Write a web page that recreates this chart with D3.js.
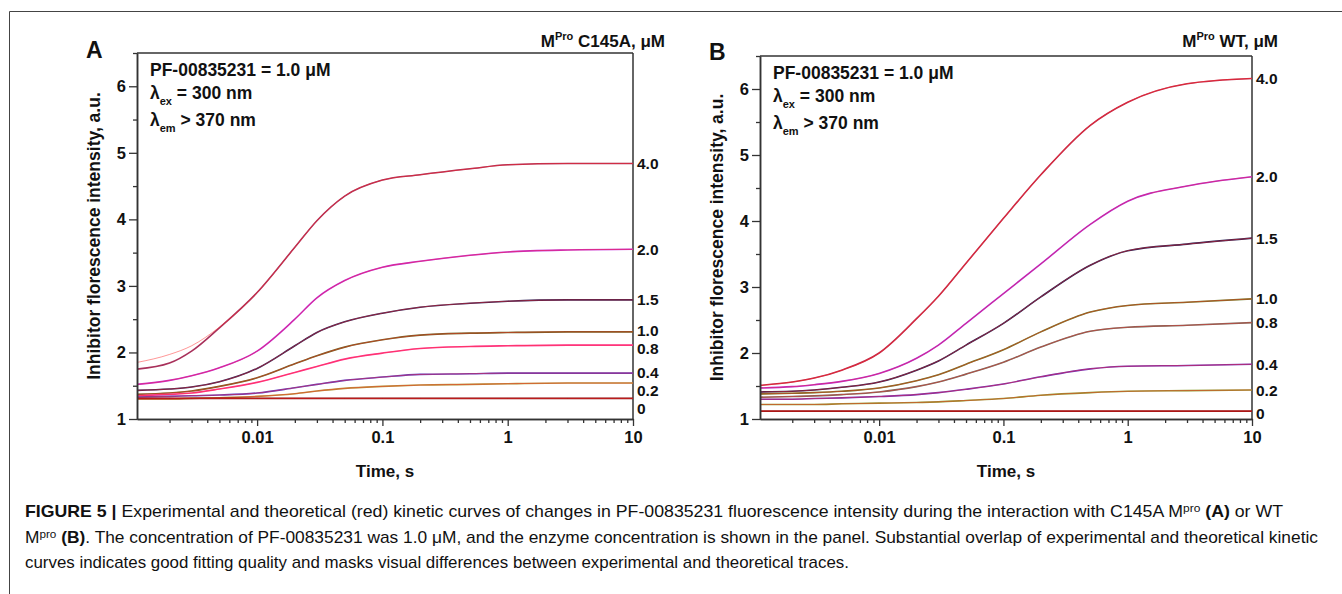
<!DOCTYPE html>
<html>
<head>
<meta charset="utf-8">
<script src="https://cdn.jsdelivr.net/npm/d3@7/dist/d3.min.js"></script>
<style>
  html, body { margin: 0; padding: 0; background: #fff; }
  svg { display: block; }
  text { font-family: "Liberation Sans", Arial, sans-serif; fill: #111; }
</style>
</head>
<body>
<svg id="chart" width="1342" height="594"></svg>
<script>
// ---------------- DATA ----------------
const timePts = [0.0011, 0.002, 0.003, 0.005, 0.01, 0.02, 0.03, 0.05, 0.1, 0.2, 0.5, 1, 3, 10];
const concLabels = ["4.0", "2.0", "1.5", "1.0", "0.8", "0.4", "0.2", "0"];

// Panel A: MPro C145A
const curvesA = [
  [1.85, 1.97, 2.10, 2.38, 2.90, 3.58, 3.98, 4.35, 4.59, 4.67, 4.76, 4.82, 4.84, 4.84],
  [1.52, 1.58, 1.65, 1.77, 2.02, 2.50, 2.82, 3.08, 3.28, 3.37, 3.46, 3.51, 3.54, 3.55],
  [1.43, 1.45, 1.48, 1.56, 1.76, 2.10, 2.30, 2.46, 2.59, 2.68, 2.74, 2.77, 2.79, 2.79],
  [1.37, 1.39, 1.42, 1.49, 1.62, 1.83, 1.95, 2.08, 2.19, 2.26, 2.29, 2.30, 2.31, 2.31],
  [1.35, 1.37, 1.39, 1.45, 1.55, 1.70, 1.79, 1.90, 1.99, 2.06, 2.09, 2.10, 2.11, 2.11],
  [1.33, 1.34, 1.35, 1.36, 1.39, 1.47, 1.52, 1.58, 1.63, 1.67, 1.68, 1.69, 1.69, 1.69],
  [1.30, 1.30, 1.31, 1.32, 1.34, 1.38, 1.42, 1.46, 1.49, 1.51, 1.52, 1.53, 1.54, 1.54],
  [1.31, 1.31, 1.31, 1.31, 1.31, 1.31, 1.31, 1.31, 1.31, 1.31, 1.31, 1.31, 1.31, 1.31]
];
// experimental trace of the 4.0 uM C145A curve deviates from the fit at early times
const expA40Early = [1.75, 1.84, 2.02, 2.37];

// Panel B: MPro WT
const curvesB = [
  [1.51, 1.56, 1.62, 1.74, 2.00, 2.52, 2.86, 3.36, 4.04, 4.70, 5.45, 5.80, 6.08, 6.16],
  [1.47, 1.49, 1.52, 1.57, 1.69, 1.92, 2.12, 2.45, 2.90, 3.35, 3.95, 4.30, 4.53, 4.67],
  [1.41, 1.42, 1.44, 1.48, 1.56, 1.74, 1.88, 2.12, 2.45, 2.85, 3.33, 3.55, 3.65, 3.74],
  [1.38, 1.39, 1.40, 1.42, 1.47, 1.58, 1.67, 1.83, 2.05, 2.32, 2.62, 2.72, 2.77, 2.82],
  [1.33, 1.34, 1.35, 1.37, 1.41, 1.49, 1.56, 1.68, 1.86, 2.09, 2.33, 2.39, 2.42, 2.46],
  [1.30, 1.30, 1.31, 1.32, 1.34, 1.37, 1.40, 1.45, 1.53, 1.64, 1.76, 1.80, 1.81, 1.83],
  [1.22, 1.22, 1.22, 1.23, 1.24, 1.25, 1.26, 1.28, 1.31, 1.36, 1.40, 1.42, 1.43, 1.44],
  [1.12, 1.12, 1.12, 1.12, 1.12, 1.12, 1.12, 1.12, 1.12, 1.12, 1.12, 1.12, 1.12, 1.12]
];

const expColorsA = ["#a8305a", "#c02cdc", "#2a1f55", "#6b6420", "#ff3c9c", "#5a3cc8", "#b09a3a", "#8a1010"];
const expColorsB = ["#c02848", "#b02ce0", "#221c50", "#6a7a22", "#707060", "#6a30c0", "#8aa030", "#8a1010"];

const xMajor = [0.01, 0.1, 1, 10];
const yMajor = [1, 2, 3, 4, 5, 6];
const yMinor = [1.5, 2.5, 3.5, 4.5, 5.5, 6.5];
const xDomain = [0.0011, 10];
const yDomain = [1, 6.5];

// ---------------- DRAWING ----------------
const svg = d3.select("#chart");
const FONT = '"Liberation Sans", Arial, sans-serif';

// figure frame
svg.append("line").attr("x1", 9.5).attr("x2", 1342).attr("y1", 11.5).attr("y2", 11.5)
  .attr("stroke", "#444").attr("stroke-width", 1);
svg.append("line").attr("x1", 9.5).attr("x2", 9.5).attr("y1", 11.5).attr("y2", 594)
  .attr("stroke", "#444").attr("stroke-width", 1);

const xMinor = [];
[0.001, 0.01, 0.1, 1].forEach(d => { for (let k = 2; k <= 9; k++) { const v = d * k; if (v >= xDomain[0] && v <= xDomain[1]) xMinor.push(v); } });

function drawPanel(cfg) {
  const g = svg.append("g");
  const x = d3.scaleLog().domain(xDomain).range([cfg.left, cfg.right]);
  const y = d3.scaleLinear().domain(yDomain).range([cfg.bottom, cfg.top]);

  // box top & right
  g.append("line").attr("x1", cfg.left).attr("x2", cfg.right).attr("y1", cfg.top).attr("y2", cfg.top)
    .attr("stroke", "#333").attr("stroke-width", 1.5);
  g.append("line").attr("x1", cfg.right).attr("x2", cfg.right).attr("y1", cfg.top).attr("y2", cfg.bottom)
    .attr("stroke", "#333").attr("stroke-width", 1.5);

  // curves
  const line = d3.line().x(d => x(d[0])).y(d => y(d[1])).curve(d3.curveMonotoneX);
  cfg.curves.forEach((vals, i) => {
    let expVals = vals.slice();
    if (cfg.expEarly && i === cfg.expEarlyIndex) cfg.expEarly.forEach((v, k) => expVals[k] = v);
    const ptsExp = timePts.map((t, k) => [t, expVals[k]]);
    const ptsFit = timePts.map((t, k) => [t, vals[k]]);
    g.append("path").attr("d", line(ptsExp)).attr("fill", "none")
      .attr("stroke", cfg.colors[i]).attr("stroke-width", 1.6);
    g.append("path").attr("d", line(ptsFit)).attr("fill", "none")
      .attr("stroke", "#ff2a2a").attr("stroke-width", 0.9).attr("stroke-opacity", 0.55);
  });

  // axes
  g.append("g").attr("transform", `translate(0,${cfg.bottom})`)
    .call(d3.axisBottom(x).tickValues(xMajor).tickFormat(d => d >= 1 ? d3.format("d")(d) : String(d)).tickSize(7).tickSizeOuter(0).tickPadding(5));
  g.append("g").attr("transform", `translate(0,${cfg.bottom})`)
    .call(d3.axisBottom(x).tickValues(xMinor).tickFormat("").tickSize(4).tickSizeOuter(0));
  g.append("g").attr("transform", `translate(${cfg.left},0)`)
    .call(d3.axisLeft(y).tickValues(yMajor).tickFormat(d3.format("d")).tickSize(8).tickSizeOuter(0).tickPadding(3));
  g.append("g").attr("transform", `translate(${cfg.left},0)`)
    .call(d3.axisLeft(y).tickValues(yMinor).tickFormat("").tickSize(4).tickSizeOuter(0));
  g.selectAll(".domain").attr("stroke", "#333").attr("stroke-width", 1.5);
  g.selectAll(".tick line").attr("stroke", "#333").attr("stroke-width", 1.3);
  g.selectAll(".tick text").attr("font-family", FONT).attr("font-weight", "bold")
    .attr("font-size", 16.5).attr("fill", "#111");

  // axis titles
  g.append("text").attr("x", (cfg.left + cfg.right) / 2).attr("y", 477)
    .attr("text-anchor", "middle").attr("font-weight", "bold").attr("font-size", 17)
    .text("Time, s");
  g.append("text")
    .attr("transform", `translate(${cfg.yTitleX},${(cfg.top + cfg.bottom) / 2}) rotate(-90)`)
    .attr("text-anchor", "middle").attr("font-weight", "bold").attr("font-size", 17.5)
    .text("Inhibitor florescence intensity, a.u.");

  // panel letter
  g.append("text").attr("x", cfg.letterX).attr("y", cfg.letterY)
    .attr("font-weight", "bold").attr("font-size", 23).text(cfg.letter);

  // annotation
  const ax = cfg.left + 13, ay = cfg.top + 23;
  g.append("text").attr("x", ax).attr("y", ay).attr("font-weight", "bold").attr("font-size", 17.5)
    .text("PF-00835231 = 1.0 \u03BCM");
  const l2 = g.append("text").attr("x", ax).attr("y", ay + 23).attr("font-weight", "bold").attr("font-size", 17.5);
  l2.append("tspan").text("\u03BB");
  l2.append("tspan").attr("font-size", 11).attr("dy", 6).text("ex");
  l2.append("tspan").attr("dy", -6).text(" = 300 nm");
  const l3 = g.append("text").attr("x", ax).attr("y", ay + 50).attr("font-weight", "bold").attr("font-size", 17.5);
  l3.append("tspan").text("\u03BB");
  l3.append("tspan").attr("font-size", 11).attr("dy", 6).text("em");
  l3.append("tspan").attr("dy", -6).text(" > 370 nm");

  // header
  const h = g.append("text").attr("x", cfg.headerX).attr("y", 47).attr("text-anchor", "end")
    .attr("font-weight", "bold").attr("font-size", 17);
  h.append("tspan").text("M");
  h.append("tspan").attr("font-size", 11).attr("dy", -7).text("Pro");
  h.append("tspan").attr("dy", 7).text(" " + cfg.header + ", \u03BCM");

  // right-hand concentration labels (pushed apart when crowded)
  let prev = -Infinity;
  cfg.curves.forEach((vals, i) => {
    let py = y(vals[vals.length - 1]) + (cfg.labelDy[i] || 0);
    if (py - prev < 18) py = prev + 18;
    prev = py;
    g.append("text").attr("x", cfg.right + 4).attr("y", py).attr("dy", "0.36em")
      .attr("font-weight", "bold").attr("font-size", 15.5).text(concLabels[i]);
  });
}

drawPanel({
  left: 137, right: 633, top: 53, bottom: 419,
  curves: curvesA, colors: expColorsA, expEarly: expA40Early, expEarlyIndex: 0,
  letter: "A", letterX: 86, letterY: 58, yTitleX: 100,
  header: "C145A", headerX: 665, labelDy: [0, 0, 0, -1, 0, -1, 0, 8]
});
drawPanel({
  left: 760, right: 1252, top: 56, bottom: 419,
  curves: curvesB, colors: expColorsB,
  letter: "B", letterX: 709, letterY: 60, yTitleX: 723,
  header: "WT", headerX: 1278, labelDy: [0, 0, 0, 0, 0, 0, 0, 2]
});

// ---------------- CAPTION ----------------
const cap = svg.append("g");
function capLine(yPos, parts, width) {
  const t = cap.append("text").attr("x", 25).attr("y", yPos).attr("font-size", 17).attr("fill", "#222");
  parts.forEach(p => {
    const s = t.append("tspan").text(p.t);
    if (p.b) s.attr("font-weight", "bold");
    if (p.sup) s.attr("font-size", 11.5).attr("baseline-shift", "45%");
  });
  if (width) t.attr("textLength", width).attr("lengthAdjust", "spacingAndGlyphs");
  return t;
}
capLine(517, [
  { t: "FIGURE 5 | ", b: true },
  { t: "Experimental and theoretical (red) kinetic curves of changes in PF-00835231 fluorescence intensity during the interaction with C145A M" },
  { t: "pro", sup: true },
  { t: " " }, { t: "(A)", b: true }, { t: " or WT" }
], 1258);
capLine(543, [
  { t: "M" }, { t: "pro", sup: true }, { t: " " }, { t: "(B)", b: true },
  { t: ". The concentration of PF-00835231 was 1.0 \u03BCM, and the enzyme concentration is shown in the panel. Substantial overlap of experimental and theoretical kinetic" }
], 1293);
capLine(568, [
  { t: "curves indicates good fitting quality and masks visual differences between experimental and theoretical traces." }
], 824);
</script>
</body>
</html>
